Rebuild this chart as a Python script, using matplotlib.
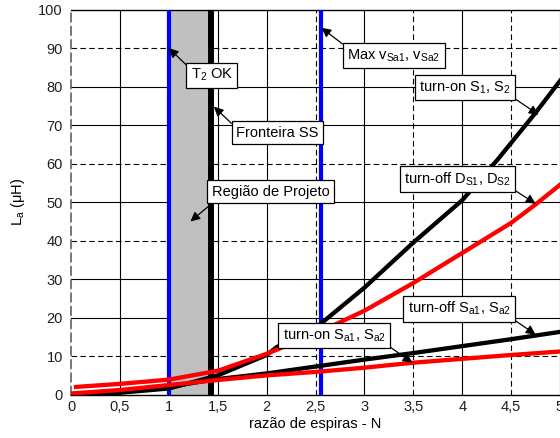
import matplotlib
matplotlib.use("Agg")
import matplotlib.pyplot as plt
import numpy as np

plt.rcParams['font.family'] = ['Liberation Sans', 'DejaVu Sans']
plt.rcParams['mathtext.fontset'] = 'custom'
plt.rcParams['mathtext.rm'] = 'Liberation Sans'
plt.rcParams['mathtext.default'] = 'regular'

# razao de espiras N
n_axis = [0, 0.5, 1, 1.5, 2, 2.5, 3, 3.5, 4, 4.5, 5]

# curves (uH)
n_on_s = [0, 0.5, 1, 1.5, 2, 2.1, 2.5, 3, 3.5, 4, 4.36, 4.75, 5]
la_on_s = [0, 0.5, 1.6, 5.0, 10.3, 12.3, 17.3, 27.8, 39.5, 50.5, 61, 73.2, 81.5]

n_off_d = [0.05, 0.5, 1, 1.5, 2, 2.5, 3, 3.5, 4, 4.5, 4.75, 5]
la_off_d = [2.0, 2.8, 3.9, 6.2, 10.6, 15.8, 21.8, 29, 36.8, 44.6, 49.4, 54.5]

n_off_sa = [0, 0.5, 1, 1.45, 2, 2.5, 3, 3.5, 4, 4.5, 5]
la_off_sa = [0, 0.8, 2.0, 3.9, 5.5, 7.3, 9.1, 10.8, 12.6, 14.4, 16.3]

n_on_sa = [0, 0.5, 1, 1.5, 2, 2.5, 3, 3.5, 4, 4.5, 5]
la_on_sa = [0.3, 1.2, 2.5, 3.8, 5.0, 5.9, 7.0, 8.3, 9.3, 10.3, 11.2]

# vertical markers
n_t2_ok = 1.0
n_fronteira = 1.43
n_max_vsa = 2.56

fig = plt.figure(figsize=(5.6, 4.38), dpi=100)
ax = fig.add_axes([0.127, 0.099, 0.873, 0.879])
ax.set_xlim(0, 5)
ax.set_ylim(0, 100)

# grid (solid / dashed as in the original)
for xv in n_axis[1:]:
    ls = (0, (5, 3)) if xv in (2.5, 3.5, 4.5) else '-'
    ax.axvline(xv, color='black', lw=0.8, ls=ls, zorder=1)
for yv in range(10, 100, 10):
    ls = (0, (5, 3)) if yv in (10, 40, 60, 90) else '-'
    ax.axhline(yv, color='black', lw=0.8, ls=ls, zorder=1)

ax.axvspan(n_t2_ok, n_fronteira, color='#c0c0c0', zorder=1.5)
ax.axvline(n_t2_ok, color='#0000ff', lw=3, zorder=3)
ax.axvline(n_fronteira, color='black', lw=4.3, zorder=3)
ax.axvline(n_max_vsa, color='#0000ff', lw=3, zorder=3)

ax.plot(n_on_s, la_on_s, color='black', lw=3.1, zorder=4)
ax.plot(n_off_sa, la_off_sa, color='black', lw=3.1, zorder=4)
ax.plot(n_off_d, la_off_d, color='#ff0000', lw=3.1, zorder=4)
ax.plot(n_on_sa, la_on_sa, color='#ff0000', lw=3.1, zorder=4)

for side in ['top', 'bottom']:
    ax.spines[side].set_linewidth(1.0)
ax.spines['right'].set_visible(False)
ax.spines['left'].set_color('#606060')
ax.spines['left'].set_linestyle((0, (5, 3)))
ax.spines['left'].set_linewidth(1.2)

ax.set_xticks(n_axis)
ax.set_xticklabels([str(v).replace('.', ',') if v % 1 else str(int(v)) for v in n_axis])
ax.set_yticks(range(0, 101, 10))
ax.tick_params(length=0, labelsize=10.5, colors='#202020')
ax.tick_params(axis='y', pad=6)
ax.tick_params(axis='x', pad=4)
ax.set_xlabel('razão de espiras - N', fontsize=10.5, labelpad=2)
ax.set_ylabel('L$_a$ (μH)', fontsize=10.5, labelpad=8)

box = dict(boxstyle='square,pad=0.3', fc='white', ec='black', lw=0.9)


def note(txt, tip, at, rel):
    ax.annotate(txt, xy=tip, xytext=at, fontsize=10.5, ha='center', va='center',
                bbox=box, zorder=6,
                arrowprops=dict(arrowstyle='-|>', color='black', lw=0.9,
                                mutation_scale=14, relpos=rel,
                                shrinkA=0, shrinkB=0))


note('T$_2$ OK', (1.0, 90), (1.44, 83), (0, 0.85))
note('Fronteira SS', (1.46, 74.8), (2.11, 68), (0, 0.85))
note('Região de Projeto', (1.22, 45), (2.04, 52.7), (0.05, 0))
note('Max v$_{Sa1}$, v$_{Sa2}$', (2.56, 95.3), (3.3, 88), (0, 1))
note('turn-on S$_1$, S$_2$', (4.78, 72.7), (4.03, 79.7), (1, 0))
note('turn-off D$_{S1}$, D$_{S2}$', (4.75, 49.6), (3.95, 56), (1, 0))
note('turn-off S$_{a1}$, S$_{a2}$', (4.75, 15.6), (3.97, 22.3), (1, 0))
note('turn-on S$_{a1}$, S$_{a2}$', (3.49, 8.3), (2.69, 15.3), (1, 0))

fig.savefig('out.png', dpi=100)
